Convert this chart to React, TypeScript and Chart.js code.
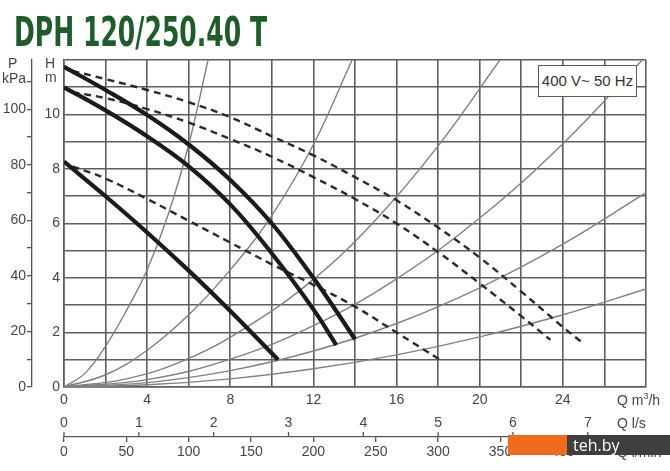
import React, { useEffect, useRef } from "react";
import { Chart, registerables } from "chart.js";

Chart.register(...registerables);

// ---- tick labels ----
const flowLabels = [0, 4, 8, 12, 16, 20, 24]; // Q m³/h
const headLabels = [0, 2, 4, 6, 8, 10]; // H m
const pressureLabels = [0, 20, 40, 60, 80, 100]; // P kPa
const litreSecLabels = [0, 1, 2, 3, 4, 5, 6, 7]; // Q l/s
const litreMinLabels = [0, 50, 100, 150, 200, 250, 300, 350, 400]; // Q l/min

// ---- pump curves (solid) : Q m³/h , H m ----
const pump1Q = [0, 2, 4, 6, 8, 10, 12, 13, 14];
const pump1H = [11.75, 10.9, 9.98, 8.9, 7.6, 6.0, 4.0, 2.9, 1.75];
const pump2Q = [0, 2, 4, 6, 8, 10, 12, 13.1];
const pump2H = [11.0, 10.15, 9.2, 8.1, 6.7, 4.9, 2.85, 1.54];
const pump3Q = [0, 2, 4, 6, 8, 10.3];
const pump3H = [8.27, 7.0, 5.67, 4.27, 2.79, 1.0];

// ---- twin-pump curves (dashed) ----
const dash1Q = [0.4, 2, 4, 6, 8, 10, 12, 14, 16, 18, 20, 22, 24, 24.9];
const dash1H = [11.6, 11.3, 10.9, 10.45, 9.9, 9.2, 8.5, 7.7, 6.85, 5.85, 4.75, 3.5, 2.2, 1.65];
const dash2Q = [0.4, 2, 4, 6, 8, 10, 12, 14, 16, 18, 20, 22, 23.4];
const dash2H = [10.82, 10.6, 10.2, 9.7, 9.1, 8.45, 7.7, 6.9, 6.0, 4.95, 3.8, 2.6, 1.73];
const dash3Q = [0.4, 2, 4, 6, 8, 10, 12, 14, 16, 18.1];
const dash3H = [8.1, 7.65, 6.9, 6.1, 5.3, 4.5, 3.75, 2.95, 2.0, 1.0];

// ---- system curves (thin grey) ----
const sysAQ = [0, 1, 2, 3, 4, 5, 6, 6.93];
const sysAH = [0, 0.5, 1.5, 2.8, 4.3, 6.3, 8.9, 12.0];
const sysBQ = [0, 2, 4, 6, 8, 10, 12, 13.86];
const sysBH = [0, 0.45, 1.35, 2.65, 4.3, 6.3, 8.9, 12.0];
const sysCQ = [0, 3, 6, 9, 12, 15, 18, 20.97];
const sysCH = [0, 0.3, 1.05, 2.3, 3.95, 6.14, 8.85, 12.0];
const sysDQ = [0, 4, 8, 12, 16, 20, 24, 27.8];
const sysDH = [0, 0.27, 1.02, 2.25, 3.97, 6.2, 8.93, 11.98];
const sysEQ = [0, 4, 8, 12, 16, 20, 24, 28];
const sysEH = [0, 0.16, 0.6, 1.32, 2.33, 3.64, 5.24, 7.13];
const sysFQ = [0, 4, 8, 12, 16, 20, 24, 28];
const sysFH = [0, 0.08, 0.3, 0.67, 1.18, 1.84, 2.65, 3.6];

const zip = (q: number[], h: number[]) => q.map((x, i) => ({ x, y: h[i] }));

const FONT = "'Liberation Sans', Arial, sans-serif";
const TEXT = "#454545";
const GRID = "#5e5e5e";

const solid = (q: number[], h: number[]) => ({
  data: zip(q, h),
  showLine: true,
  borderColor: "#1b1b1b",
  borderWidth: 4.2,
  pointRadius: 0,
  tension: 0.4,
  borderCapStyle: "butt" as const,
});
const dashed = (q: number[], h: number[]) => ({
  data: zip(q, h),
  showLine: true,
  borderColor: "#2a2a2a",
  borderWidth: 2.4,
  borderDash: [7, 5],
  pointRadius: 0,
  tension: 0.4,
});
const system = (q: number[], h: number[]) => ({
  data: zip(q, h),
  showLine: true,
  borderColor: "#808080",
  borderWidth: 1.4,
  pointRadius: 0,
  tension: 0.4,
});

const labelCb = (list: number[]) => (v: any) =>
  list.some((l) => Math.abs(l - Number(v)) < 1e-6) ? String(Math.round(Number(v))) : "";

const upTicks = {
  id: "upTicks",
  afterDraw(chart: any) {
    const ls = chart.scales.ls;
    const lm = chart.scales.lmin;
    if (!ls || !lm) return;
    const ctx = chart.ctx;
    ctx.save();
    ctx.strokeStyle = "#555";
    ctx.lineWidth = 1.3;
    ls.ticks.forEach((t: any) => {
      const x = ls.getPixelForValue(t.value);
      ctx.beginPath();
      ctx.moveTo(x, lm.top);
      ctx.lineTo(x, lm.top - 5);
      ctx.stroke();
    });
    ctx.restore();
  },
};

function App() {
  const ref = useRef<HTMLCanvasElement | null>(null);

  useEffect(() => {
    if (!ref.current) return;
    const chart = new Chart(ref.current, {
      type: "scatter",
      data: {
        datasets: [
          solid(pump1Q, pump1H),
          solid(pump2Q, pump2H),
          solid(pump3Q, pump3H),
          dashed(dash1Q, dash1H),
          dashed(dash2Q, dash2H),
          dashed(dash3Q, dash3H),
          system(sysAQ, sysAH),
          system(sysBQ, sysBH),
          system(sysCQ, sysCH),
          system(sysDQ, sysDH),
          system(sysEQ, sysEH),
          system(sysFQ, sysFH),
        ] as any,
      },
      options: {
        responsive: false,
        animation: false,
        events: [],
        layout: { padding: { top: 60, right: 24, left: 0, bottom: 0 } },
        plugins: { legend: { display: false }, tooltip: { enabled: false } },
        scales: {
          x: {
            type: "linear",
            position: "bottom",
            weight: 0,
            min: 0,
            max: 28,
            afterFit: (s: any) => {
              s.height = 22;
            },
            ticks: {
              stepSize: 2,
              autoSkip: false,
              maxRotation: 0,
              padding: 5,
              color: TEXT,
              font: { family: FONT, size: 14 },
              callback: labelCb(flowLabels),
            },
            grid: { color: GRID, lineWidth: 1.6, drawTicks: false },
            border: { display: true, color: GRID, width: 1.6 },
          },
          ls: {
            type: "linear",
            position: "bottom",
            weight: 1,
            min: 0,
            max: 28 / 3.6,
            afterFit: (s: any) => {
              s.height = 28;
            },
            ticks: {
              stepSize: 1,
              includeBounds: false,
              autoSkip: false,
              maxRotation: 0,
              padding: 6,
              color: TEXT,
              font: { family: FONT, size: 14 },
              callback: labelCb(litreSecLabels),
            },
            grid: { display: false, drawTicks: false },
            border: { display: false },
          },
          lmin: {
            type: "linear",
            position: "bottom",
            weight: 2,
            min: 0,
            max: 28 / 0.06,
            afterFit: (s: any) => {
              s.height = 34;
            },
            ticks: {
              stepSize: 50,
              includeBounds: false,
              autoSkip: false,
              maxRotation: 0,
              padding: 2,
              color: TEXT,
              font: { family: FONT, size: 14 },
              callback: labelCb(litreMinLabels),
            },
            grid: { drawOnChartArea: false, drawTicks: true, tickLength: 5, color: "#555", lineWidth: 1.3 },
            border: { display: true, color: "#555", width: 1.3 },
          },
          y: {
            type: "linear",
            position: "left",
            weight: 0,
            min: 0,
            max: 12,
            afterFit: (s: any) => {
              s.width = 32;
            },
            ticks: {
              stepSize: 1,
              autoSkip: false,
              padding: 4,
              color: TEXT,
              font: { family: FONT, size: 14 },
              callback: labelCb(headLabels),
            },
            grid: { color: GRID, lineWidth: 1.6, drawTicks: false },
            border: { display: true, color: GRID, width: 1.6 },
          },
          p: {
            type: "linear",
            position: "left",
            weight: 1,
            min: 0,
            max: 12 * 9.81,
            afterFit: (s: any) => {
              s.width = 32;
            },
            ticks: {
              stepSize: 10,
              includeBounds: false,
              autoSkip: false,
              padding: 1,
              color: TEXT,
              font: { family: FONT, size: 14 },
              callback: labelCb(pressureLabels),
            },
            grid: { drawOnChartArea: false, drawTicks: true, tickLength: 5, color: "#555", lineWidth: 1.3 },
            border: { display: true, color: "#555", width: 1.3 },
          },
        },
      } as any,
      plugins: [upTicks],
    });
    return () => chart.destroy();
  }, []);

  const txt: React.CSSProperties = {
    position: "absolute",
    fontFamily: FONT,
    fontSize: 14,
    lineHeight: "14px",
    color: TEXT,
    whiteSpace: "nowrap",
  };

  return (
    <div
      style={{
        position: "absolute",
        left: 0,
        top: 0,
        width: 670,
        height: 471,
        background: "#fff",
        overflow: "hidden",
      }}
    >
      <canvas ref={ref} width={670} height={471} style={{ position: "absolute", left: 0, top: 0 }} />
      <div
        style={{
          position: "absolute",
          left: 14,
          top: 12,
          fontFamily: "'DejaVu Sans Condensed', 'Liberation Sans Narrow', sans-serif",
          fontWeight: 700,
          fontSize: 41,
          lineHeight: "41px",
          color: "#1e5c2a",
          whiteSpace: "nowrap",
          transform: "scaleX(0.68)",
          transformOrigin: "0 0",
        }}
      >
        DPH 120/250.40 T
      </div>
      <div style={{ ...txt, left: 8, top: 56 }}>P</div>
      <div style={{ ...txt, left: 2, top: 71 }}>kPa</div>
      <div style={{ ...txt, left: 45, top: 56 }}>H</div>
      <div style={{ ...txt, left: 45, top: 70 }}>m</div>
      <div style={{ ...txt, left: 617, top: 393 }}>
        Q m<sup style={{ fontSize: 9, lineHeight: 0 }}>3</sup>/h
      </div>
      <div style={{ ...txt, left: 617, top: 416 }}>Q l/s</div>
      <div style={{ ...txt, left: 617, top: 445 }}>Q l/min</div>
      <div
        style={{
          position: "absolute",
          left: 538,
          top: 65,
          width: 97,
          height: 30,
          border: "1.5px solid #5a5a5a",
          background: "#fff",
          fontFamily: FONT,
          fontSize: 15,
          lineHeight: "30px",
          textAlign: "center",
          color: "#333",
          whiteSpace: "nowrap",
        }}
      >
        400 V~ 50 Hz
      </div>
      <div style={{ position: "absolute", left: 508, top: 435, width: 59, height: 20, background: "#f26b1d" }} />
      <div
        style={{
          position: "absolute",
          left: 567,
          top: 435,
          width: 103,
          height: 20,
          background: "#3f3f3f",
          color: "#fff",
          fontFamily: "'Open Sans', 'DejaVu Sans', sans-serif",
          fontSize: 16,
          lineHeight: "20px",
          paddingLeft: 6,
          boxSizing: "border-box",
        }}
      >
        teh.by
      </div>
    </div>
  );
}

export default App;
